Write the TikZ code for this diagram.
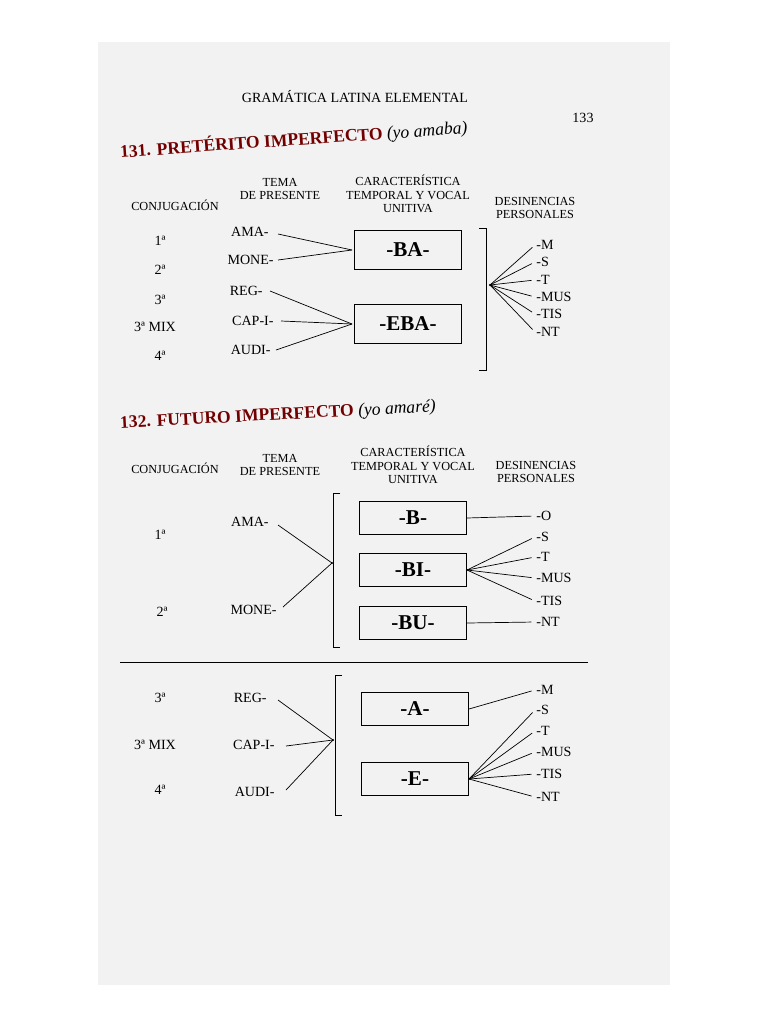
\documentclass[tikz,border=0pt]{standalone}
\usepackage{fontspec}
\setmainfont{Liberation Serif}
\begin{document}
\begin{tikzpicture}[x=0.03cm,y=-0.03cm,
  lab/.style={inner sep=1pt,font=\fontsize{12}{13}\selectfont},
  hd/.style={inner sep=0pt,align=center,font=\fontsize{10.5}{11.5}\selectfont},
  bx/.style={draw,line width=1.1pt,minimum width=3.2cm,minimum height=1.15cm,font=\fontsize{18}{19}\bfseries\selectfont},
  ttl/.style={anchor=west,inner sep=0pt,text=red!45!black,font=\fontsize{15}{16}\bfseries\selectfont},
  ln/.style={line width=0.6pt},
  en/.style={ln,shorten >=3pt}]
\useasboundingbox (0,0) rectangle (768,1024);
\fill[white] (0,0) rectangle (768,1024);
\fill[black!5] (98,42) rectangle (670,985);
\node[lab] (hdr) at (355,97) {GRAMÁTICA LATINA ELEMENTAL};
\node[lab] (pg) at (583,118) {133};
% ---------- 131
\node[ttl,rotate=4] (t1) at (120,152) {131. PRETÉRITO IMPERFECTO \textnormal{\textit{\textcolor{black}{(yo amaba)}}}};
\node[hd] (h1) at (175,205) {CONJUGACIÓN};
\node[hd] (h2) at (280,189) {TEMA\\DE PRESENTE};
\node[hd] (h3) at (408,194) {CARACTERÍSTICA\\TEMPORAL Y VOCAL\\UNITIVA};
\node[hd] (h4) at (535,208) {DESINENCIAS\\PERSONALES};
\foreach \t/\x/\y/\n in {1ª/160/241/c1,2ª/160/270/c2,3ª/160/300/c3,3ª MIX/155/327/c4,4ª/160/356/c5}
  \node[lab] (\n) at (\x,\y) {\t};
\node[lab,anchor=east] (ama) at (270,232) {AMA-};
\node[lab,anchor=east] (mone) at (275,260) {MONE-};
\node[lab,anchor=east] (reg) at (264,291) {REG-};
\node[lab,anchor=east] (cap) at (275,321) {CAP-I-};
\node[lab,anchor=east] (audi) at (272,350) {AUDI-};
\coordinate (j1) at (352,250);
\coordinate (j2) at (352,324);
\node[bx] (ba) at (408,250) {-BA-};
\node[bx] (eba) at (408,324) {-EBA-};
\draw[ln] (ama.east)++(8,2) -- (j1);
\draw[ln] (mone.east)++(3,0) -- (j1);
\draw[ln] (reg.east)++(6,0) -- (j2);
\draw[ln] (cap.east)++(6,0) -- (j2);
\draw[ln] (audi.east)++(4,0) -- (j2);
\draw[ln] (479,228) -- (486,228) -- (486,370) -- (479,370);
\coordinate (j3) at (490,285);
\fill (j3) circle (1.2);
\foreach \t/\y/\n in {-M/245/m1,-S/262/s1,-T/280/t1b,-MUS/297/mus1,-TIS/314/tis1,-NT/332/nt1}{
  \node[lab,anchor=west] (\n) at (535,\y) {\t};
  \draw[en] (j3) -- (\n.west);}
% ---------- 132
\node[ttl,rotate=3] (t2) at (120,424) {132. FUTURO IMPERFECTO \textnormal{\textit{\textcolor{black}{(yo amaré)}}}};
\node[hd] (g1) at (175,468) {CONJUGACIÓN};
\node[hd] (g2) at (280,465) {TEMA\\DE PRESENTE};
\node[hd] (g3) at (413,465) {CARACTERÍSTICA\\TEMPORAL Y VOCAL\\UNITIVA};
\node[hd] (g4) at (536,472) {DESINENCIAS\\PERSONALES};
\node[lab] (d1) at (160,535) {1ª};
\node[lab] (d2) at (162,612) {2ª};
\node[lab,anchor=east] (ama2) at (270,522) {AMA-};
\node[lab,anchor=east] (mone2) at (278,610) {MONE-};
\coordinate (k1) at (332,563);
\draw[ln] (ama2.east)++(8,3) -- (k1);
\draw[ln] (mone2.east)++(5,-3) -- (k1);
\fill (k1) circle (1.2);
\draw[ln] (340,493) -- (333,493) -- (333,647) -- (340,647);
\node[bx,minimum height=1.0cm] (b) at (413,518) {-B-};
\node[bx,minimum height=1.0cm] (bi) at (413,570) {-BI-};
\node[bx,minimum height=1.0cm] (bu) at (413,623) {-BU-};
\node[lab,anchor=west] (o) at (535,516) {-O};
\draw[en] (b.east) -- (o.west);
\foreach \t/\y/\n in {-S/537/s2,-T/557/t2b,-MUS/578/mus2,-TIS/601/tis2}{
  \node[lab,anchor=west] (\n) at (535,\y) {\t};
  \draw[en] (bi.east) -- (\n.west);}
\node[lab,anchor=west] (nt2) at (535,622) {-NT};
\draw[en] (bu.east) -- (nt2.west);
\coordinate (r1) at (120,662);
\coordinate (r2) at (588,662);
\draw[ln] (r1) -- (r2);
\node[lab] (e1) at (160,698) {3ª};
\node[lab] (e2) at (155,745) {3ª MIX};
\node[lab] (e3) at (160,790) {4ª};
\node[lab,anchor=east] (reg2) at (268,698) {REG-};
\node[lab,anchor=east] (cap2) at (276,745) {CAP-I-};
\node[lab,anchor=east] (audi2) at (276,792) {AUDI-};
\coordinate (k2) at (333,740);
\draw[ln] (reg2.east)++(10,2) -- (k2);
\draw[ln] (cap2.east)++(10,1) -- (k2);
\draw[ln] (audi2.east)++(10,-2) -- (k2);
\fill (k2) circle (1.2);
\draw[ln] (342,675) -- (335,675) -- (335,815) -- (342,815);
\node[bx,minimum height=1.0cm] (a) at (415,709) {-A-};
\node[bx,minimum height=1.0cm] (e) at (415,779) {-E-};
\node[lab,anchor=west] (m3) at (535,690) {-M};
\draw[en] (a.east) -- (m3.west);
\foreach \t/\y/\n in {-S/710/s3,-T/731/t3b,-MUS/752/mus3,-TIS/774/tis3,-NT/797/nt3}{
  \node[lab,anchor=west] (\n) at (535,\y) {\t};
  \draw[en] (e.east) -- (\n.west);}
\end{tikzpicture}
\end{document}
